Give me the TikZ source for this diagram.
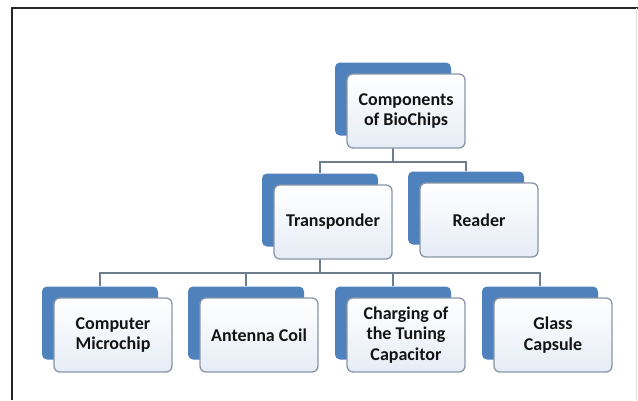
\documentclass[tikz,border=0pt]{standalone}
\usepackage{fontspec}
\setmainfont{Carlito}
\pgfdeclarelayer{bg}
\pgfsetlayers{bg,main}
\definecolor{backblue}{HTML}{4F81BD}
\definecolor{frontedge}{HTML}{8A96A6}
\definecolor{frontlow}{HTML}{E6ECF6}
\definecolor{connline}{HTML}{6E7C8C}
\definecolor{labeltext}{HTML}{141414}
\tikzset{
  backbox/.style={fill=backblue, rounded corners=5pt, minimum width=116pt, minimum height=73pt, inner sep=0pt},
  frontbox/.style={draw=frontedge, line width=1.3pt, rounded corners=6pt, top color=white, bottom color=frontlow,
    minimum width=118pt, minimum height=74pt, inner sep=2pt, align=center,
    font=\fontsize{18}{20.5}\selectfont\bfseries, text=labeltext},
  conn/.style={draw=connline, line width=1.4pt},
  frameline/.style={line width=1.6pt, black!85},
}
\begin{document}
\begin{tikzpicture}[x=1pt,y=-1pt]
\useasboundingbox (0,0) rectangle (638,400);
% outer frame
\draw[frameline] (12,400) -- (12,8) -- (638,8);
\draw[line width=0.8pt, black!12] (636,8) -- (636,400);

% root
\node[backbox] (topB) at (393,99) {};
\node[frontbox] (topF) at (406,111) {Components\\of BioChips};
% second level
\node[backbox] (transB) at (320,210) {};
\node[frontbox] (transF) at (333,222) {Transponder};
\node[backbox] (readB) at (466,208) {};
\node[frontbox] (readF) at (479,220) {Reader};
% third level
\node[backbox] (chipB) at (100,323) {};
\node[frontbox] (chipF) at (113,335) {Computer\\Microchip};
\node[backbox] (coilB) at (246,323) {};
\node[frontbox] (coilF) at (259,335) {Antenna Coil};
\node[backbox] (capB) at (393,323) {};
\node[frontbox] (capF) at (406,335) {Charging of\\the Tuning\\Capacitor};
\node[backbox] (glassB) at (540,323) {};
\node[frontbox] (glassF) at (553,335) {Glass\\Capsule};

\coordinate (busA) at (393,162);
\coordinate (busB) at (320,273);

% connectors sit behind the boxes
\begin{pgfonlayer}{bg}
\draw[conn] (topB.center) -- (busA);
\draw[conn] (busA) -| (transB.north);
\draw[conn] (busA) -| (readB.north);
\draw[conn] (transB.center) -- (busB);
\draw[conn] (busB) -| (chipB.north);
\draw[conn] (busB) -| (coilB.north);
\draw[conn] (busB) -| (capB.north);
\draw[conn] (busB) -| (glassB.north);
\end{pgfonlayer}
\end{tikzpicture}
\end{document}
